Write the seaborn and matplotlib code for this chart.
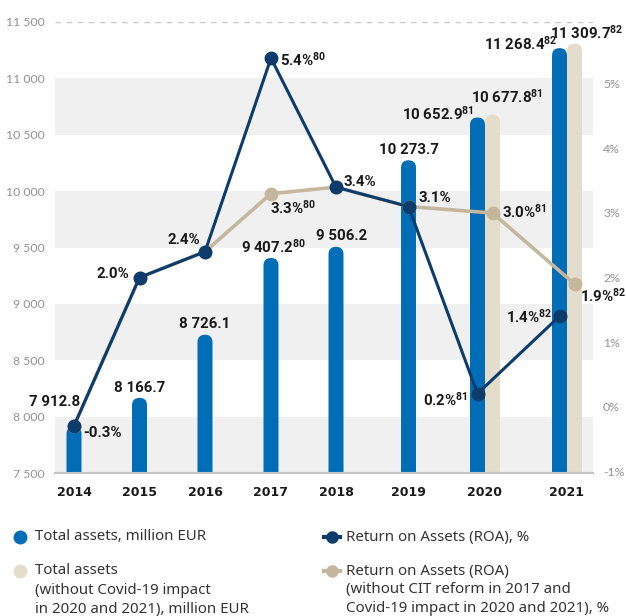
import matplotlib
matplotlib.use("Agg")
import matplotlib.pyplot as plt
from matplotlib.patches import FancyBboxPatch
from matplotlib.lines import Line2D
import pandas as pd
import seaborn as sns

# ---- data -------------------------------------------------------------
years = ["2014", "2015", "2016", "2017", "2018", "2019", "2020", "2021"]
total_assets = [7912.8, 8166.7, 8726.1, 9407.2, 9506.2, 10273.7, 10652.9, 11268.4]
total_assets_notes = ["", "", "", "80", "", "", "81", "82"]
adj_years = ["2020", "2021"]
total_assets_adj = [10677.8, 11309.7]
total_assets_adj_notes = ["81", "82"]
roa = [-0.3, 2.0, 2.4, 5.4, 3.4, 3.1, 0.2, 1.4]
roa_notes = ["", "", "", "80", "", "", "81", "82"]
roa_adj = [-0.3, 2.0, 2.4, 3.3, 3.4, 3.1, 3.0, 1.9]
roa_adj_notes = ["", "", "", "80", "", "", "81", "82"]
roa_adj_labelled = ["2017", "2020", "2021"]

assets_ticks = [7500, 8000, 8500, 9000, 9500, 10000, 10500, 11000, 11500]
roa_ticks = [-1, 0, 1, 2, 3, 4, 5]

legend_labels = [
    ["Total assets, million EUR"],
    ["Total assets", "(without Covid-19 impact", "in 2020 and 2021), million EUR"],
    ["Return on Assets (ROA), %"],
    ["Return on Assets (ROA)", "(without CIT reform in 2017 and", "Covid-19 impact in 2020 and 2021), %"],
]

# ---- style / layout ----------------------------------------------------
BLUE = "#006db6"
BEIGE = "#e4ddcc"
NAVY = "#0b3c6b"
TAUPE = "#c5b69e"
BAND = "#f0f0f0"
INK = "#1a1a1a"
GREY = "#929292"

W, H = 626, 616
X_MIN, X_MAX = 55, 593          # horizontal layout units of the plot area
slot_centre = [74, 139.5, 205, 271, 336, 408.5, 485, 567]
BAR_W = 15

sns.set_theme(style="white")
plt.rcParams["font.family"] = ["Noto Sans", "DejaVu Sans"]
plt.rcParams["mathtext.default"] = "regular"

fig = plt.figure(figsize=(W / 100, H / 100), dpi=100)
ax = fig.add_axes([X_MIN / W, 143 / H, (X_MAX - X_MIN) / W, 451 / H])
ax.set_xlim(X_MIN, X_MAX)
ax.set_ylim(7500, 11500)

# positions: paired years split into two side-by-side bars
centre = dict(zip(years, slot_centre))
blue_x = [centre[y] - BAR_W / 2 if y in adj_years else centre[y] for y in years]
beige_x = [centre[y] + BAR_W / 2 for y in adj_years]
adj_x = [centre[y] + BAR_W / 2 if y in adj_years else centre[y] for y in years]

# ---- bars ---------------------------------------------------------------
bar_df = pd.DataFrame({
    "pos": blue_x + beige_x,
    "value": total_assets + total_assets_adj,
    "series": ["reported"] * len(total_assets) + ["adjusted"] * len(total_assets_adj),
})
sns.barplot(data=bar_df, x="pos", y="value", hue="series",
            palette={"reported": BLUE, "adjusted": BEIGE},
            native_scale=True, dodge=False, legend=False, saturation=1,
            ax=ax, zorder=2)
ax.set_xlim(X_MIN, X_MAX)
ax.set_ylim(7500, 11500)

# round the bar tops (circular caps in screen space)
asp = ((11500 - 7500) / ax.bbox.height) / ((X_MAX - X_MIN) / ax.bbox.width)
for p in list(ax.patches):
    xc = p.get_x() + p.get_width() / 2
    h = p.get_height()
    fc = p.get_facecolor()
    p.remove()
    ax.add_patch(FancyBboxPatch((xc - BAR_W / 2, 0), BAR_W, h,
                                boxstyle=f"round,pad=0,rounding_size={BAR_W / 2}",
                                mutation_aspect=asp, fc=fc, ec="none", zorder=2))

# alternating background bands and top dashed guide
for lo in (7500, 8500, 9500, 10500):
    ax.axhspan(lo, lo + 500, color=BAND, lw=0, zorder=0)
ax.axhline(11500, color="#c8c8c8", lw=1, ls=(0, (4, 4)), zorder=1)

# ---- axes cosmetics ------------------------------------------------------
for s in ("top", "left", "right"):
    ax.spines[s].set_visible(False)
ax.spines["bottom"].set_color("#c4c4c4")
ax.spines["bottom"].set_linewidth(1.5)
ax.set_xlabel("")
ax.set_ylabel("")
ax.set_xticks(slot_centre, years)
ax.set_yticks(assets_ticks, [f"{t:,}".replace(",", " ") for t in assets_ticks])
ax.tick_params(axis="x", length=0, pad=9.5)
ax.tick_params(axis="y", length=0, pad=7.2, colors=GREY, labelsize=8.8)
for t in ax.get_xticklabels():
    t.set_fontfamily("DejaVu Sans")
    t.set_fontweight("bold")
    t.set_fontsize(9)
    t.set_color(INK)
for t in ax.get_yticklabels():
    t.set_fontfamily("Lato")
    t.set_fontweight("normal")

ax2 = ax.twinx()
ax2.set_ylim(-1.03, 5.96)
ax2.set_xlim(X_MIN, X_MAX)

# ---- ROA lines -------------------------------------------------------------
roa_adj_df = pd.DataFrame({"pos": adj_x, "roa": roa_adj})
roa_df = pd.DataFrame({"pos": blue_x, "roa": roa})
sns.lineplot(data=roa_adj_df, x="pos", y="roa", ax=ax2, color=TAUPE, lw=2.6,
             marker="o", markersize=10, markeredgewidth=0, zorder=3)
sns.lineplot(data=roa_df, x="pos", y="roa", ax=ax2, color=NAVY, lw=2.2,
             marker="o", markersize=10, markeredgewidth=0, zorder=4)
ax2.set_xlim(X_MIN, X_MAX)
ax2.set_ylim(-1.03, 5.96)
for s in ax2.spines.values():
    s.set_visible(False)
ax2.set_xlabel("")
ax2.set_ylabel("")
ax2.set_yticks(roa_ticks, [f"{t}%" for t in roa_ticks])
ax2.tick_params(axis="y", length=0, pad=7.2, colors=GREY, labelsize=8.8)
for t in ax2.get_yticklabels():
    t.set_fontfamily("Lato")
    t.set_fontweight("normal")

# ---- value labels ----------------------------------------------------------
LBL = dict(fontfamily="Roboto", fontweight="bold", fontsize=10.8, color=INK,
           textcoords="offset pixels", annotation_clip=False, zorder=6)


def with_note(text, note):
    return f"{text}$^{{{note}}}$" if note else text


def eur(v):
    return f"{v:,.1f}".replace(",", " ")


# offsets (px) and alignment of each bar label relative to the bar top
bar_lbl_pos = [((-19.5, 24), "center"), ((0, 10), "center"), ((0, 11), "center"),
               ((2, 11), "center"), ((6, 11), "center"), ((0, 10.5), "center"),
               ((-3, 4), "right"), ((-1.5, 4), "right")]
for x, v, note, (off, ha) in zip(blue_x, total_assets, total_assets_notes, bar_lbl_pos):
    ax2.annotate(with_note(eur(v), note), xy=(x, v), xycoords=ax.transData,
                 xytext=off, ha=ha, va="center", **LBL)

adj_lbl_pos = [(15, 17.5), (12.5, 11)]
for x, v, note, off in zip(beige_x, total_assets_adj, total_assets_adj_notes, adj_lbl_pos):
    ax2.annotate(with_note(eur(v), note), xy=(x, v), xycoords=ax.transData,
                 xytext=off, ha="center", va="center", **LBL)

roa_lbl_pos = [((9, -7), "left"), ((-10, 4), "right"), ((-5, 12), "right"),
               ((9, -2), "left"), ((7, 5), "left"), ((10, 9), "left"),
               ((-10, -6), "right"), ((-7, -1), "right")]
for x, v, note, (off, ha) in zip(blue_x, roa, roa_notes, roa_lbl_pos):
    ax2.annotate(with_note(f"{v:.1f}%", note), xy=(x, v), xytext=off,
                 ha=ha, va="center", **LBL)

roa_adj_lbl_pos = {"2017": ((-1, -14), "left"), "2020": ((9, 1), "left"),
                   "2021": ((6, -12), "left")}
for y, x, v, note in zip(years, adj_x, roa_adj, roa_adj_notes):
    if y in roa_adj_labelled:
        off, ha = roa_adj_lbl_pos[y]
        ax2.annotate(with_note(f"{v:.1f}%", note), xy=(x, v), xytext=off,
                     ha=ha, va="center", **LBL)

# ---- legend ------------------------------------------------------------------
def fx(px):
    return px / W


def fy(py):
    return 1 - py / H


LEG = dict(fontsize=10.8, color="#333333", va="center", ha="left",
           fontfamily=["Noto Sans", "DejaVu Sans"])
rows = [537, 571]
line_gap = 19

fig.add_artist(Line2D([fx(20)], [fy(rows[0])], transform=fig.transFigure,
                      marker="o", ms=10, mew=0, color=BLUE, ls="none"))
fig.add_artist(Line2D([fx(20)], [fy(rows[1])], transform=fig.transFigure,
                      marker="o", ms=10, mew=0, color=BEIGE, ls="none"))
for row, col in ((0, NAVY), (1, TAUPE)):
    fig.add_artist(Line2D([fx(322), fx(342)], [fy(rows[row])] * 2,
                          transform=fig.transFigure, color=col, lw=3,
                          solid_capstyle="butt"))
    fig.add_artist(Line2D([fx(332)], [fy(rows[row])], transform=fig.transFigure,
                          marker="o", ms=9, mew=0, color=col, ls="none"))

for (lines, x0, y0) in ((legend_labels[0], 35, rows[0]), (legend_labels[1], 35, rows[1]),
                        (legend_labels[2], 346, rows[0]), (legend_labels[3], 346, rows[1])):
    for i, line in enumerate(lines):
        fig.text(fx(x0), fy(y0 + i * line_gap), line, **LEG)

fig.savefig("out.png", dpi=100)
